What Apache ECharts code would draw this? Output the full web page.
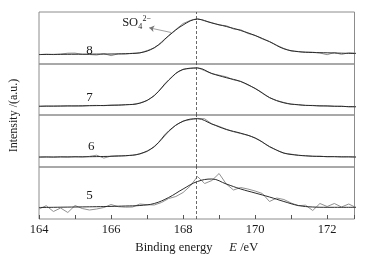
<!DOCTYPE html>
<html>
<head>
<meta charset="utf-8">
<script src="https://cdn.jsdelivr.net/npm/echarts@6/dist/echarts.min.js"></script>
<style>html,body{margin:0;padding:0;background:#fff}#c{width:370px;height:258px}</style>
</head>
<body>
<div id="c"></div>
<script>
// Binding energy grid of the measured spectra (eV)
const energy = [164.0,164.2,164.4,164.6,164.8,165.0,165.2,165.4,165.6,165.8,166.0,166.2,166.4,166.6,166.8,167.0,167.2,167.4,167.6,167.8,168.0,168.2,168.4,168.6,168.8,169.0,169.2,169.4,169.6,169.8,170.0,170.2,170.4,170.6,170.8,171.0,171.2,171.4,171.6,171.8,172.0,172.2,172.4,172.6,172.8];
// Energy grid of the fitted curves (eV)
const fitEnergy = [164.0,164.4,164.8,165.2,165.6,166.0,166.4,166.8,167.2,167.6,168.0,168.4,168.8,169.2,169.6,170.0,170.4,170.8,171.2,171.6,172.0,172.4,172.8];

const panelNames = ['8','7','6','5'];
const tickLabels = [164,166,168,170,172];
const peakPosition = 168.36;

// measured intensity (a.u.), per sample
const meas8 = [9.3,9.8,9.4,9.9,10.8,10.9,9.6,9.5,9.0,10.4,8.3,10.2,10.0,10.8,11.0,13.4,16.0,21.0,28.5,34.5,40.5,43.5,45.5,43.0,41.3,39.0,38.3,35.0,34.3,30.5,28.6,25.0,22.5,18.8,15.5,13.0,12.5,12.0,11.8,11.0,9.3,11.5,9.6,11.2,10.8];
const meas7 = [8.5,9.0,8.8,9.0,9.3,9.0,8.9,9.5,9.6,9.3,9.9,10.0,10.4,10.6,12.0,14.5,19.2,26.8,34.6,41.6,45.8,46.5,47.3,44.3,41.3,39.8,38.2,35.2,33.6,30.0,26.7,22.3,17.2,14.5,12.5,10.8,10.4,9.5,9.6,9.0,9.2,8.6,8.9,8.1,8.4];
const meas6 = [9.8,10.2,9.8,10.3,9.9,10.4,10.0,10.6,11.8,8.9,10.9,11.4,11.2,11.8,13.0,15.5,20.0,27.3,35.5,41.8,46.0,47.3,48.6,48.2,43.0,40.6,37.8,35.3,33.5,31.7,29.0,25.2,20.0,17.0,13.6,12.9,11.5,11.3,10.6,10.9,10.2,10.5,10.0,10.3,9.9];
const meas5 = [10.0,13.3,7.5,11.0,6.5,13.5,10.5,9.0,10.0,11.5,14.5,12.3,11.8,12.0,15.0,14.3,14.0,16.5,20.5,22.5,26.5,33.0,42.5,35.5,38.5,45.5,35.0,29.0,31.5,30.0,28.0,25.5,17.5,21.0,19.5,16.0,13.3,13.8,8.5,15.5,12.5,15.5,12.0,15.0,11.5];

// fitted curves (a.u.), per sample
const fit8 = [9.5,9.6,9.7,9.8,9.9,10.0,10.3,11.2,16.3,28.2,39.0,44.8,41.0,37.5,33.5,28.5,22.3,15.2,12.3,11.5,11.2,10.8,10.5];
const fit7 = [8.8,8.9,9.0,9.2,9.4,9.7,10.2,11.8,19.5,35.0,45.5,47.0,41.5,37.3,33.5,26.5,17.5,12.2,10.2,9.4,9.0,8.6,8.2];
const fit6 = [10.0,10.0,10.1,10.2,10.4,10.7,11.3,13.2,20.5,36.0,45.7,48.3,43.0,37.5,33.8,29.0,20.5,14.0,11.8,10.8,10.4,10.2,10.0];
const fit5 = [11.5,11.7,11.9,12.1,12.3,12.6,13.0,13.5,15.5,21.5,30.0,37.5,40.0,35.0,30.0,26.0,22.0,17.5,13.5,12.0,11.7,11.7,11.7];

const measured = [meas8, meas7, meas6, meas5];
const fitted = [fit8, fit7, fit6, fit5];
const labelPos = [[165.4,13.5],[165.4,17.5],[165.45,20],[165.4,23.3]];

const tops = [12, 64, 115, 167];
const heights = [52, 51, 52, 52];
const X_MIN = 164, X_MAX = 172.76;
const serif = '"Liberation Serif","Times New Roman",serif';

const grids = [], xAxes = [], yAxes = [], series = [];
for (let i = 0; i < 4; i++) {
  grids.push({left: 39, width: 315.5, top: tops[i], height: heights[i], show: true,
    borderColor: '#8c8c8c', borderWidth: 1, backgroundColor: 'transparent'});
  const bottom = i === 3;
  xAxes.push({type: 'value', gridIndex: i, min: X_MIN, max: X_MAX, interval: 1,
    axisLine: {show: false}, splitLine: {show: false},
    axisTick: {show: bottom, inside: true, length: 4, lineStyle: {color: '#555', width: 1}},
    axisLabel: {show: bottom, margin: 4, color: '#1a1a1a', fontFamily: serif, fontSize: 12.5,
      formatter: v => tickLabels.indexOf(Math.round(v*100)/100) >= 0 ? String(v) : ''},
    name: bottom ? '{a|Binding energy}     {b|E} {a|/eV}' : '',
    nameLocation: 'middle', nameGap: 22,
    nameTextStyle: {rich: {a: {fontFamily: serif, fontSize: 12.5, color: '#1a1a1a'},
                           b: {fontFamily: serif, fontSize: 12.5, fontStyle: 'italic', color: '#1a1a1a'}}}
  });
  yAxes.push({type: 'value', gridIndex: i, min: 0, max: heights[i],
    axisLine: {show: false}, axisTick: {show: false}, axisLabel: {show: false}, splitLine: {show: false}});
  const markPointData = [{coord: labelPos[i], value: panelNames[i],
      label: {show: true, position: 'inside', formatter: panelNames[i], fontFamily: serif, fontSize: 13, color: '#1a1a1a'}}];
  const markLineData = [{xAxis: peakPosition}];
  if (i === 0) {
    markPointData.push(
      {coord: [166.53, 40.8], label: {show: true, position: 'inside', formatter: 'SO', fontFamily: serif, fontSize: 12.5, color: '#1a1a1a'}},
      {coord: [166.81, 36.8], label: {show: true, position: 'inside', formatter: '4', fontFamily: serif, fontSize: 8, color: '#1a1a1a'}},
      {coord: [166.99, 45.5], label: {show: true, position: 'inside', formatter: '2\u2212', fontFamily: serif, fontSize: 8, color: '#1a1a1a'}}
    );
  }
  series.push({type: 'line', xAxisIndex: i, yAxisIndex: i, showSymbol: false, silent: true,
    data: energy.map((e, k) => [e, measured[i][k]]),
    lineStyle: {color: '#909090', width: 1}, z: 2,
    markPoint: {symbol: 'circle', symbolSize: 1, itemStyle: {color: 'rgba(0,0,0,0)'}, data: markPointData, animation: false},
    markLine: {silent: true, symbol: ['none','none'], animation: false, label: {show: false},
      lineStyle: {color: '#444', type: [3, 2], width: 0.8}, data: markLineData}
  });
  const fitSeries = {type: 'line', xAxisIndex: i, yAxisIndex: i, showSymbol: false, silent: true, smooth: 0.4,
    data: fitEnergy.map((e, k) => [e, fitted[i][k]]),
    lineStyle: {color: '#2a2a2a', width: 1}, z: 3};
  if (i === 0) {
    fitSeries.markLine = {silent: true, symbol: ['none', 'arrow'], symbolSize: 5, animation: false, label: {show: false},
      lineStyle: {color: '#777', type: 'solid', width: 0.7},
      data: [[{coord: [167.67, 31.5]}, {coord: [167.06, 36.2]}]]};
  }
  series.push(fitSeries);
}
// full-height invisible grid for the y-axis title
grids.push({left: 39, width: 315.5, top: 12, height: 207, show: false});
xAxes.push({type: 'value', gridIndex: 4, show: false, min: 0, max: 1});
yAxes.push({type: 'value', gridIndex: 4, min: 0, max: 1, axisLine: {show: false}, axisTick: {show: false},
  axisLabel: {show: false}, splitLine: {show: false},
  name: 'Intensity /(a.u.)', nameLocation: 'middle', nameGap: 19,
  nameTextStyle: {fontFamily: serif, fontSize: 12, color: '#1a1a1a'}});

const chart = echarts.init(document.getElementById('c'), null, {renderer: 'canvas'});
chart.setOption({animation: false, backgroundColor: '#fff', grid: grids, xAxis: xAxes, yAxis: yAxes, series: series});
</script>
</body>
</html>
